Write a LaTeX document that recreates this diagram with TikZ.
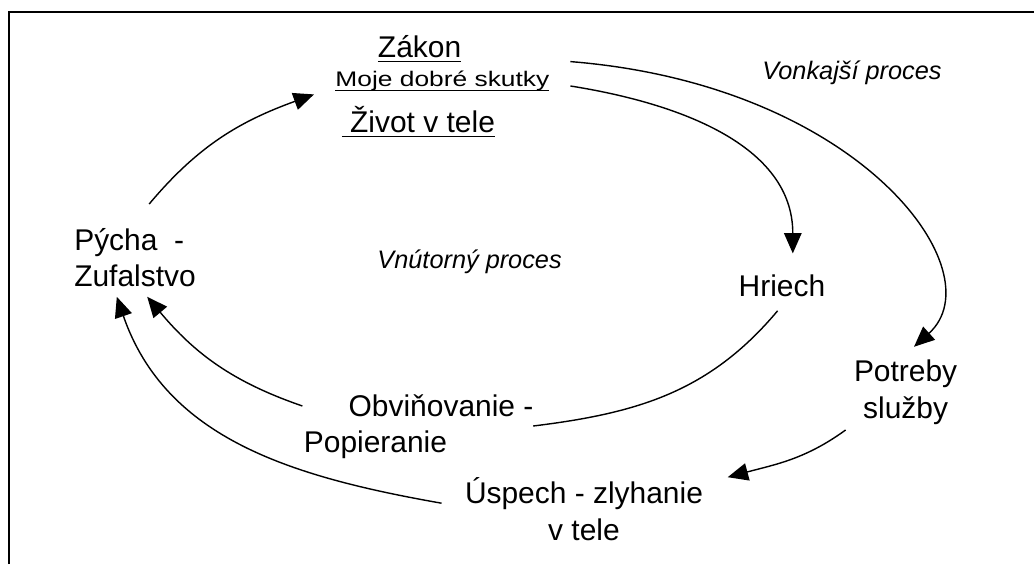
\documentclass[tikz,border=0pt]{standalone}
\usepackage{fontspec}
\setmainfont{Liberation Sans}
\newfontfamily\breitfont[FakeStretch=1.25]{Liberation Sans}
\usetikzlibrary{arrows.meta}

\newcommand{\unterstr}[1]{\setbox0\hbox{#1}\rlap{\rule[-3.8pt]{\wd0}{1.1pt}}\box0}

\begin{document}
\begin{tikzpicture}[
    begriff/.style={inner sep=0pt, font=\fontsize{21.3}{26.1}\selectfont},
    prozess/.style={inner sep=0pt, font=\fontsize{18}{22}\selectfont\itshape},
    linie/.style={line width=1pt},
    pfeil/.style={linie, -{Triangle[length=14.5pt,width=12.5pt]}}
  ]
  % Rahmen
  \useasboundingbox (0,0) rectangle (25.85,14.1);
  \draw[line width=1.1pt] (0.23,0) -- (0.23,13.8) -- (25.85,13.8);

  % Gesetz oben
  \node[begriff, anchor=base] (zakon) at (10.49,12.675) {\unterstr{Zákon}};
  \node[inner sep=0pt, anchor=base, font=\breitfont\fontsize{15}{18}\selectfont] (skutky) at (11.06,11.95) {\unterstr{Moje dobré skutky}};
  \node[begriff, anchor=base] (zivot) at (10.46,10.8) {\unterstr{\ Život v tele}};

  % Stationen im Kreis (base = letzte Zeile)
  \node[begriff, anchor=base west, align=left] (pycha) at (1.85,6.93) {Pýcha\ \ -\\Zufalstvo};
  \node[begriff, anchor=base] (hriech) at (19.55,6.68) {Hriech};
  \node[begriff, anchor=base, align=center] (potreby) at (22.64,3.64) {Potreby\\služby};
  \node[begriff, anchor=base west, align=left] (obvin) at (7.59,2.78) {\hspace*{1.12cm}Obviňovanie -\\Popieranie};
  \node[begriff, anchor=base, align=center] (uspech) at (14.6,0.6) {Úspech - zlyhanie\\v tele};

  % Prozesse
  \node[prozess, anchor=base] (vnutor) at (11.74,7.39) {Vnútorný proces};
  \node[prozess, anchor=base] (vonk) at (21.3,12.1) {Vonkajší proces};

  % innerer Kreis
  \draw[pfeil] ([xshift=1.88cm,yshift=2.07cm]pycha.base west) to[out=50,in=200] ([xshift=-0.53cm,yshift=-0.21cm]skutky.base west);
  \draw[pfeil] ([xshift=0.52cm]skutky.base east) to[out=-9,in=90] ([xshift=0.27cm,yshift=1.085cm]hriech.base);
  \draw[linie] ([xshift=-0.11cm,yshift=-0.35cm]hriech.base) to[out=230,in=7] ([xshift=5.74cm,yshift=0.67cm]obvin.base west);
  \draw[pfeil] ([xshift=-0.03cm,yshift=1.17cm]obvin.base west) to[out=161,in=-50] ([xshift=1.83cm,yshift=-0.25cm]pycha.base west);

  % aeusserer Kreis
  \draw[pfeil] ([xshift=0.52cm,yshift=0.61cm]skutky.base east) .. controls (21.52,11.98) and (24.91,7.29) .. ([xshift=0.21cm,yshift=1.79cm]potreby.base);
  \draw[pfeil] ([xshift=-1.5cm,yshift=-0.29cm]potreby.base) to[out=216,in=15] ([xshift=0.61cm,yshift=1.57cm]uspech.base east);
  \draw[pfeil] ([xshift=-0.58cm,yshift=0.92cm]uspech.base west) to[out=170,in=-71] ([xshift=1.07cm,yshift=-0.25cm]pycha.base west);
\end{tikzpicture}
\end{document}
